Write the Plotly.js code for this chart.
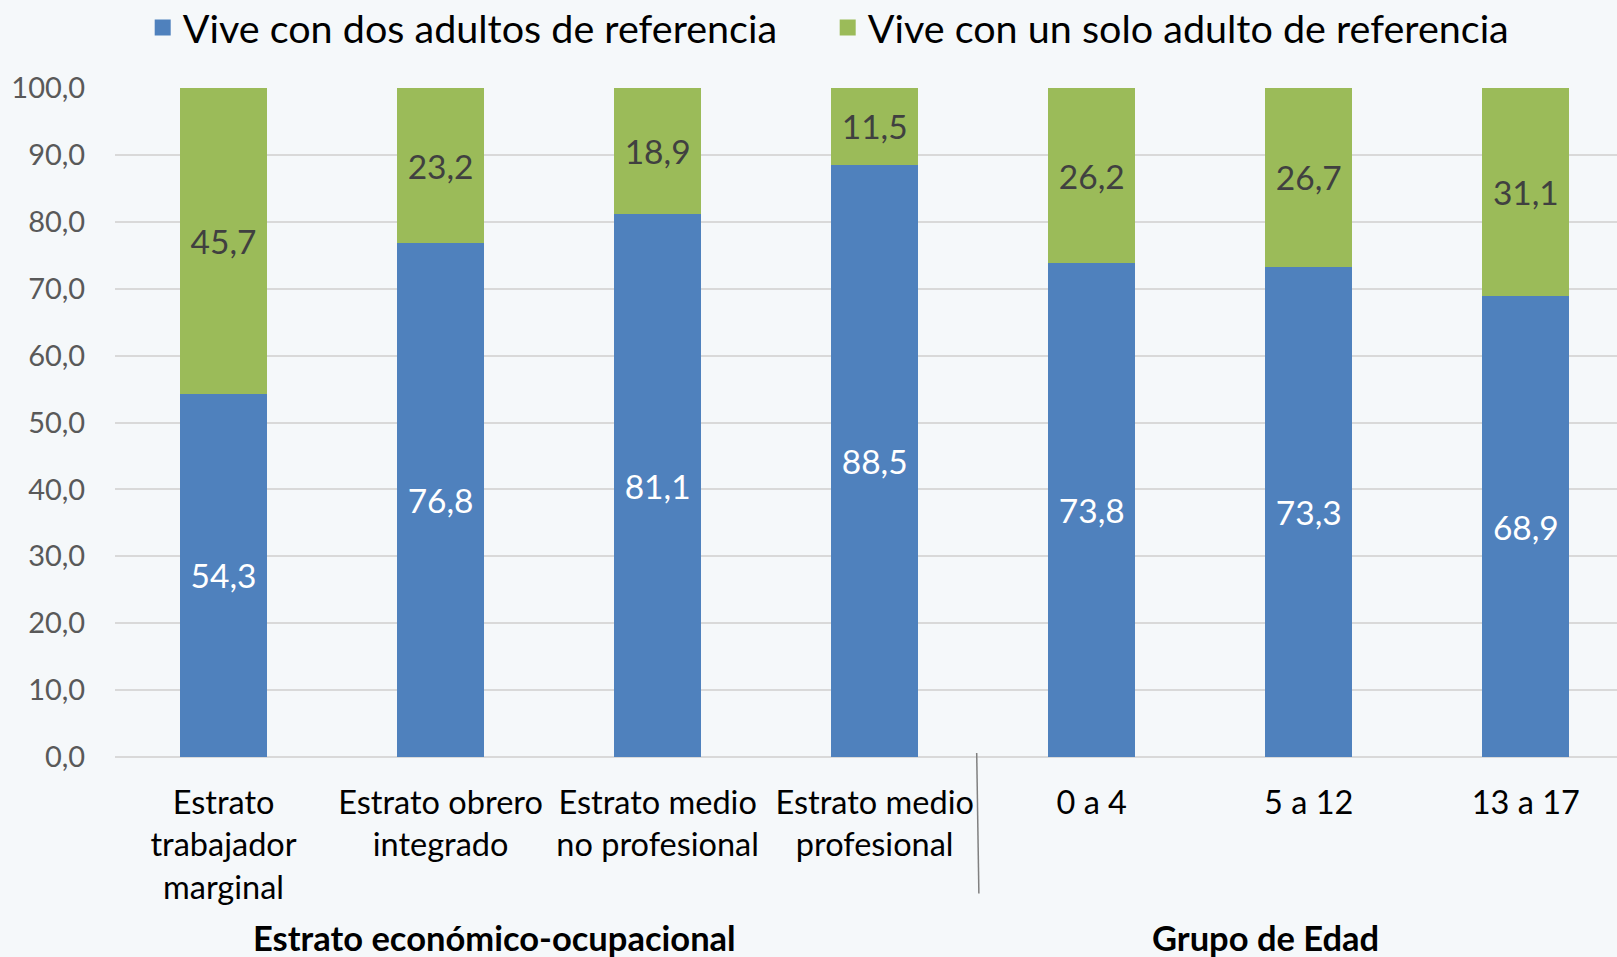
<!DOCTYPE html>
<html>
<head>
<meta charset="utf-8">
<script src="https://cdn.plot.ly/plotly-3.0.1.min.js"></script>
<style>
html,body{margin:0;padding:0;background:#f5f8fa;}
#chart{width:1617px;height:957px;}
</style>
</head>
<body>
<div id="chart"></div>
<script>
var categories = [
  "Estrato<br>trabajador<br>marginal",
  "Estrato obrero<br>integrado",
  "Estrato medio<br>no profesional",
  "Estrato medio<br>profesional",
  "0 a 4",
  "5 a 12",
  "13 a 17"
];
var dosAdultos = [54.3, 76.8, 81.1, 88.5, 73.8, 73.3, 68.9];
var unAdulto = [45.7, 23.2, 18.9, 11.5, 26.2, 26.7, 31.1];
var seriesNames = ["Vive con dos adultos de referencia", "Vive con un solo adulto de referencia"];
var seriesColors = ['#4f81bd', '#9bbb59'];
var groupTitles = ["Estrato económico-ocupacional", "Grupo de Edad"];

function fmt(v){ return v.toFixed(1).replace('.', ','); }
var xIdx = categories.map(function(c, i){ return i; });

var font = "Lato, 'Open Sans', sans-serif";

var traces = [
  {
    type: 'bar', name: seriesNames[0], x: xIdx, y: dosAdultos,
    marker: {color: seriesColors[0]}, showlegend: false, legendgroup: 'a',
    text: dosAdultos.map(fmt), textposition: 'inside', insidetextanchor: 'middle',
    textfont: {color: '#ffffff', size: 33.5, family: font},
    constraintext: 'none', hoverinfo: 'none'
  },
  {
    type: 'bar', name: seriesNames[1], x: xIdx, y: unAdulto,
    marker: {color: seriesColors[1]}, showlegend: false, legendgroup: 'b',
    text: unAdulto.map(fmt), textposition: 'inside', insidetextanchor: 'middle',
    textfont: {color: '#404040', size: 33.5, family: font},
    constraintext: 'none', hoverinfo: 'none'
  },
  {
    type: 'scatter', mode: 'markers', name: seriesNames[0], x: [null], y: [null],
    marker: {symbol: 'square', size: 16, color: seriesColors[0]}, legendgroup: 'a', hoverinfo: 'none'
  },
  {
    type: 'scatter', mode: 'markers', name: seriesNames[1], x: [null], y: [null],
    marker: {symbol: 'square', size: 16, color: seriesColors[1]}, legendgroup: 'b', hoverinfo: 'none'
  }
];

var layout = {
  width: 1617, height: 957,
  barmode: 'stack', bargap: 0.6,
  separators: ',.',
  paper_bgcolor: '#f5f8fa', plot_bgcolor: '#f5f8fa',
  font: {family: font, color: '#000000'},
  margin: {l: 115, r: 0, t: 88, b: 200},
  showlegend: true,
  legend: {
    orientation: 'h', x: 0.4745, xanchor: 'center', y: 0.971, yanchor: 'middle',
    yref: 'container', entrywidth: 640, entrywidthmode: 'pixels',
    font: {size: 39.5, color: '#000000', family: font},
    itemwidth: 30, traceorder: 'normal', bgcolor: 'rgba(0,0,0,0)'
  },
  xaxis: {
    tickmode: 'array', tickvals: xIdx, ticktext: categories,
    range: [-0.5, 6.42], showgrid: false, zeroline: false, showline: false,
    ticks: 'outside', ticklen: 17, tickcolor: 'rgba(0,0,0,0)',
    tickfont: {size: 32.5, color: '#000000', family: font},
    fixedrange: true
  },
  yaxis: {
    range: [0, 100], dtick: 10, tickformat: '.1f',
    showgrid: true, gridcolor: '#d9d9d9', gridwidth: 2,
    zeroline: true, zerolinecolor: '#d9d9d9', zerolinewidth: 2,
    showline: false,
    ticks: 'outside', ticklen: 23, tickcolor: 'rgba(0,0,0,0)',
    tickfont: {size: 29, color: '#595959', family: font},
    fixedrange: true
  },
  shapes: [
    {type: 'line', xref: 'x', yref: 'paper', x0: 3.47, x1: 3.48, y0: 0.006, y1: -0.204,
     line: {color: '#808080', width: 1.5}}
  ],
  annotations: [
    {text: '<b>' + groupTitles[0] + '</b>', xref: 'x', yref: 'paper', x: 1.25, y: -0.27,
     xanchor: 'center', yanchor: 'middle', showarrow: false,
     font: {size: 34.5, color: '#000000', family: font}},
    {text: '<b>' + groupTitles[1] + '</b>', xref: 'x', yref: 'paper', x: 4.8, y: -0.27,
     xanchor: 'center', yanchor: 'middle', showarrow: false,
     font: {size: 34.5, color: '#000000', family: font}}
  ]
};

Plotly.newPlot('chart', traces, layout, {displayModeBar: false, staticPlot: true});
</script>
</body>
</html>
